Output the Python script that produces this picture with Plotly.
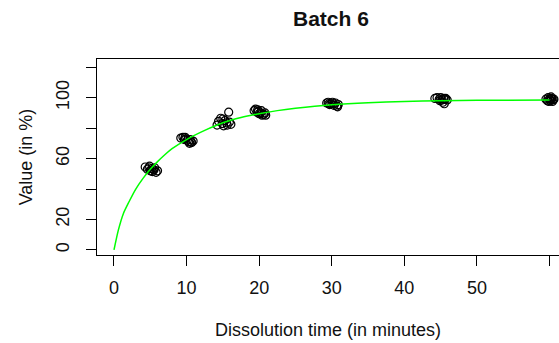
import plotly.graph_objects as go

# Observed dissolution values (jittered sampling times, in minutes; values in %)
obs_time_5 = [4.3, 4.6, 4.9, 5.0, 5.2, 5.3, 5.5, 5.6, 5.8, 6.0, 4.8, 5.4]
obs_val_5 = [54.5, 53.0, 55.0, 52.0, 53.5, 51.5, 52.5, 54.0, 51.0, 52.0, 54.0, 53.0]
obs_time_10 = [9.2, 9.5, 9.7, 9.9, 10.1, 10.3, 10.5, 10.7, 10.9, 10.4, 9.8, 10.6]
obs_val_10 = [73.5, 74.0, 72.5, 73.0, 72.0, 71.0, 72.5, 70.5, 71.5, 70.0, 74.0, 71.0]
obs_time_15 = [14.2, 14.4, 14.7, 14.9, 15.1, 15.3, 15.5, 15.8, 15.9, 16.1, 15.0, 15.6]
obs_val_15 = [82.0, 84.5, 86.5, 83.0, 81.5, 85.0, 83.5, 90.5, 84.0, 82.5, 86.0, 82.0]
obs_time_20 = [19.3, 19.5, 19.7, 19.9, 20.0, 20.2, 20.4, 20.6, 20.8, 20.3, 19.8, 20.9]
obs_val_20 = [91.5, 92.5, 90.5, 91.0, 89.5, 90.0, 88.5, 89.0, 90.0, 91.5, 92.0, 88.5]
obs_time_30 = [29.3, 29.5, 29.7, 29.9, 30.1, 30.3, 30.5, 30.7, 30.9, 30.2, 29.6, 30.8]
obs_val_30 = [96.5, 97.0, 95.5, 96.0, 97.0, 95.0, 96.5, 94.5, 95.5, 96.0, 96.0, 94.0]
obs_time_45 = [44.2, 44.5, 44.8, 45.0, 45.2, 45.4, 45.6, 45.9, 45.3, 45.5, 44.9, 45.7]
obs_val_45 = [99.5, 100.0, 99.0, 100.0, 98.5, 99.5, 99.0, 98.5, 97.0, 96.0, 98.0, 99.5]
obs_time_60 = [59.5, 59.7, 59.8, 60.0, 60.1, 60.2, 60.3, 60.4, 60.5, 59.9, 60.2, 60.6]
obs_val_60 = [99.0, 98.0, 100.0, 99.0, 98.0, 100.5, 99.0, 97.5, 98.5, 97.5, 99.5, 99.0]

# Fitted curve
fit_time = [0, 0.6, 1.3, 2, 3, 4, 5, 6, 7, 8, 10, 12.5, 15, 17.5, 20, 22.5, 25, 30, 35, 40, 45, 50, 60]
fit_val = [0, 13, 24, 31, 40, 47, 53, 58, 62.5, 66.5, 72.5, 78.5, 83.5, 87, 89.5, 91.5, 93, 95.3, 96.7, 97.5, 98, 98.3, 98.5]

x_ticks = [0, 10, 20, 30, 40, 50, 60]
y_ticks = [0, 20, 40, 60, 80, 100, 120]
y_tick_text = ["0", "20", "", "60", "", "100", ""]

obs_time = obs_time_5 + obs_time_10 + obs_time_15 + obs_time_20 + obs_time_30 + obs_time_45 + obs_time_60
obs_val = obs_val_5 + obs_val_10 + obs_val_15 + obs_val_20 + obs_val_30 + obs_val_45 + obs_val_60

FONT = "Liberation Sans, Arial, sans-serif"

fig = go.Figure()
fig.add_trace(go.Scatter(
    x=obs_time, y=obs_val, mode="markers",
    marker=dict(symbol="circle-open", size=8, color="black", line=dict(width=1.2, color="black")),
    showlegend=False, cliponaxis=False,
))
fig.add_trace(go.Scatter(
    x=fit_time, y=fit_val, mode="lines",
    line=dict(color="#00FF00", width=1.5, shape="spline", smoothing=0.6),
    showlegend=False,
))

fig.update_layout(
    width=559, height=343,
    margin=dict(l=97, r=0, t=59, b=88, autoexpand=False),
    paper_bgcolor="white", plot_bgcolor="white",
    font=dict(family=FONT, size=18, color="#111"),
    title=dict(text="<b>Batch 6</b>", x=0.592, xanchor="center", y=0.945, yanchor="middle",
               font=dict(family=FONT, size=21, color="#111")),
)
fig.update_xaxes(
    range=[-2.34, 61.3], tickvals=x_ticks, ticktext=[str(v) for v in x_ticks],
    showgrid=False, zeroline=False, automargin=False,
    showline=True, linecolor="black", linewidth=1, mirror=True,
    ticks="outside", ticklen=10, tickcolor="black", tickwidth=1,
    ticklabelstandoff=6,
    title=dict(text="Dissolution time (in minutes)", standoff=26, font=dict(size=18)),
)
fig.update_yaxes(
    range=[-3.3, 125.4], tickvals=y_ticks, ticktext=y_tick_text, tickangle=-90,
    showgrid=False, zeroline=False, automargin=False,
    showline=True, linecolor="black", linewidth=1,
    ticks="outside", ticklen=10, tickcolor="black", tickwidth=1,
    ticklabelstandoff=10,
    title=dict(text="Value (in %)", standoff=15, font=dict(size=18)),
)

fig.write_html("out.html", config={"displayModeBar": False},
               post_script="document.body.style.margin='0';document.body.style.overflow='hidden';")
